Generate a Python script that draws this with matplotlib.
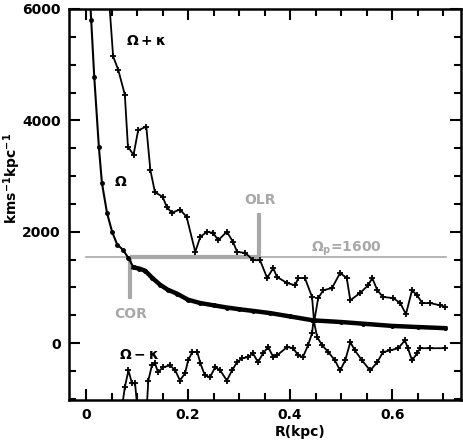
import numpy as np
import matplotlib
matplotlib.use("Agg")
import matplotlib.pyplot as plt
from matplotlib.ticker import MultipleLocator

# Omega curve
r_om = [0.004, 0.010, 0.016, 0.025, 0.031, 0.041, 0.051, 0.061, 0.072, 0.083, 0.093,
        0.104, 0.116, 0.130, 0.145, 0.160, 0.178, 0.200, 0.224, 0.250, 0.276, 0.300,
        0.327, 0.361, 0.400, 0.445, 0.500, 0.543, 0.600, 0.650, 0.704]
om = [6800, 5800, 4780, 3530, 2880, 2340, 2000, 1770, 1680, 1530, 1360,
      1340, 1300, 1170, 1050, 960, 890, 780, 720, 680, 640, 610,
      580, 540, 480, 410, 380, 350, 310, 290, 270]

# Omega + kappa
r_up = [0.044, 0.053, 0.063, 0.076, 0.082, 0.093, 0.102, 0.118, 0.126, 0.135, 0.150,
        0.158, 0.168, 0.184, 0.197, 0.214, 0.224, 0.237, 0.249, 0.259, 0.276, 0.288,
        0.296, 0.312, 0.328, 0.341, 0.355, 0.367, 0.374, 0.394, 0.410, 0.416, 0.429,
        0.443, 0.447, 0.455, 0.465, 0.482, 0.498, 0.511, 0.518, 0.537, 0.553, 0.561,
        0.571, 0.582, 0.602, 0.616, 0.627, 0.639, 0.649, 0.659, 0.675, 0.694, 0.704]
om_up = [6300, 5150, 4910, 4460, 3530, 3380, 3820, 3890, 3110, 2710, 2630,
         2450, 2340, 2400, 2270, 1640, 1910, 2000, 1980, 1850, 2000, 1820,
         1640, 1620, 1490, 1490, 1170, 1350, 1190, 1080, 1040, 1170, 1170,
         830, 380, 810, 950, 990, 1260, 1170, 770, 900, 1040, 1170,
         950, 830, 810, 720, 520, 950, 860, 720, 720, 680, 650]

# Omega - kappa
r_lo = [0.068, 0.076, 0.083, 0.090, 0.096, 0.102, 0.118, 0.122, 0.129, 0.135, 0.141,
        0.151, 0.165, 0.175, 0.184, 0.194, 0.200, 0.208, 0.218, 0.224, 0.233, 0.243,
        0.253, 0.263, 0.276, 0.286, 0.296, 0.306, 0.318, 0.327, 0.337, 0.347, 0.357,
        0.367, 0.374, 0.394, 0.406, 0.416, 0.425, 0.435, 0.443, 0.446, 0.453, 0.463,
        0.475, 0.488, 0.498, 0.508, 0.518, 0.527, 0.541, 0.557, 0.571, 0.582, 0.596,
        0.612, 0.625, 0.631, 0.639, 0.649, 0.655, 0.675, 0.704]
om_lo = [-1300, -790, -490, -720, -720, -1300, -1300, -670, -400, -360, -520,
         -430, -400, -490, -670, -540, -310, -160, -160, -360, -580, -610,
         -430, -490, -670, -490, -340, -270, -250, -180, -340, -180, -70,
         -250, -220, -70, -90, -220, -250, -40, 180, 420, 110, -40,
         -160, -310, -490, -310, 20, -130, -310, -490, -340, -160, -130,
         -90, 50, -90, -310, -180, -90, -90, -90]

omega_p_line = 1540
r_cr = 0.086
r_olr = 0.339
cr_bottom = 790
olr_top = 2340
r_line_end = 0.706

gray = "#a8a8a8"
plt.rcParams['font.family'] = ['DejaVu Sans']
plt.rcParams['font.weight'] = 'bold'

fig = plt.figure(figsize=(4.63, 4.44), dpi=100)
ax = fig.add_axes([69/463, 1-400/444, (461-69)/463, (400-9)/444])

# pattern speed line
ax.plot([0.0, r_line_end], [omega_p_line, omega_p_line], color=gray, lw=1.2, zorder=1)
ax.plot([r_cr, r_olr], [omega_p_line, omega_p_line], color=gray, lw=3, zorder=1,
        solid_capstyle='butt')
ax.plot([r_cr, r_cr], [cr_bottom, omega_p_line], color=gray, lw=3, zorder=1,
        solid_capstyle='butt')
ax.plot([r_olr, r_olr], [omega_p_line, olr_top], color=gray, lw=3, zorder=1,
        solid_capstyle='butt')

r_om_a = np.array(r_om); om_a = np.array(om)
ax.plot(r_om_a, om_a, color='black', lw=1.5, marker='o', ms=2.5, zorder=3)
m = r_om_a >= 0.088
ax.plot(r_om_a[m], om_a[m], color='black', lw=3.2, zorder=3)

ax.plot(r_up, om_up, color='black', lw=1.3, marker='+', ms=4, mew=1.3, zorder=3)
ax.plot(r_lo, om_lo, color='black', lw=1.3, marker='+', ms=4, mew=1.3, zorder=3)

ax.set_xlim(-0.0335, 0.735)
ax.set_ylim(-1020, 6000)

ax.xaxis.set_major_locator(MultipleLocator(0.2))
ax.xaxis.set_minor_locator(MultipleLocator(0.05))
ax.yaxis.set_major_locator(MultipleLocator(2000))
ax.yaxis.set_minor_locator(MultipleLocator(500))
ax.set_xticks([0, 0.2, 0.4, 0.6])
ax.set_xticklabels(['0', '0.2', '0.4', '0.6'])
ax.set_yticks([0, 2000, 4000, 6000])
ax.set_yticklabels(['0', '2000', '4000', '6000'])
ax.tick_params(which='both', direction='in', top=True, right=True, width=1.5,
               labelsize=10)
ax.tick_params(which='major', length=8, pad=6)
ax.tick_params(which='minor', length=5)
for s in ax.spines.values():
    s.set_linewidth(1.8)

ax.text(0.118, 5420, r'$\mathbf{\Omega+\kappa}$', fontsize=10, ha='center', va='center')
ax.text(0.067, 2900, r'$\mathbf{\Omega}$', fontsize=10, ha='center', va='center')
ax.text(0.104, -216, r'$\mathbf{\Omega-\kappa}$', fontsize=10, ha='center', va='center')
ax.text(0.088, 520, 'COR', color=gray, fontsize=10, ha='center', va='center')
ax.text(0.341, 2570, 'OLR', color=gray, fontsize=10, ha='center', va='center')
ax.text(0.51, 1700, r'$\mathbf{\Omega_p}$=1600', color=gray, fontsize=10,
        ha='center', va='center')

fig.text(300/463, 1-432/444, 'R(kpc)', fontsize=10, ha='center', va='center')
fig.text(12/463, 1-178/444, r'kms$^{\mathbf{-1}}$kpc$^{\mathbf{-1}}$', fontsize=10,
         rotation=90, ha='center', va='center')

fig.savefig('out.png', dpi=100)
